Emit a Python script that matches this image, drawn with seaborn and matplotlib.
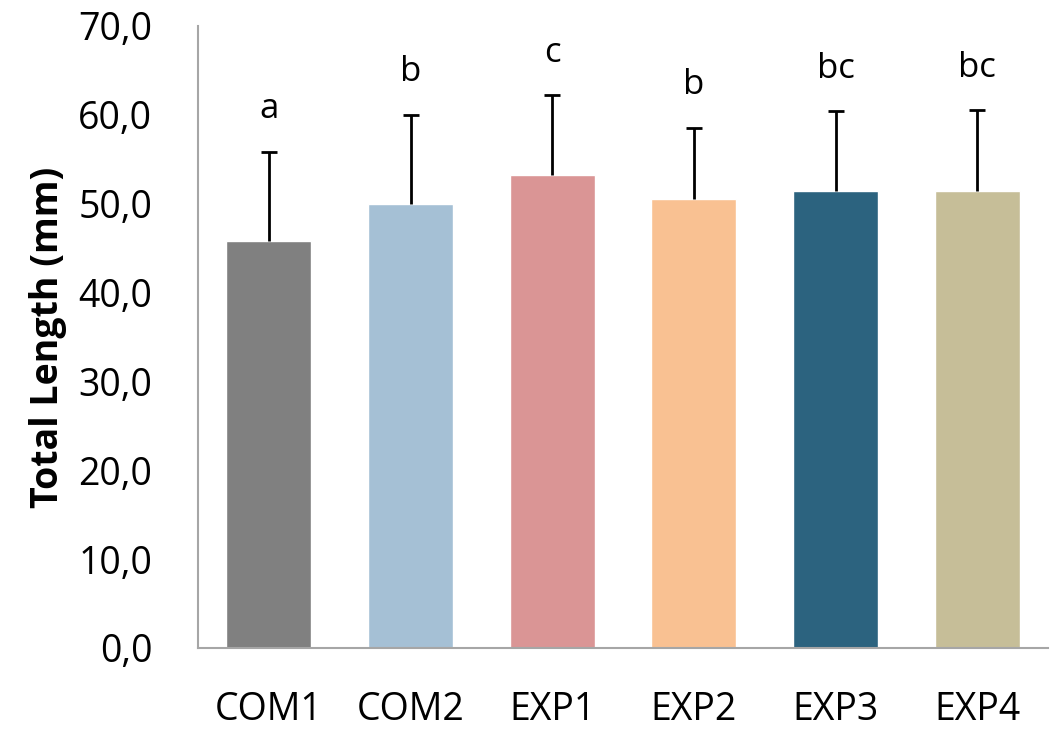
import numpy as np
import pandas as pd
import seaborn as sns
import matplotlib.pyplot as plt
from matplotlib.ticker import FuncFormatter, FixedLocator

# data
groups = ['COM1', 'COM2', 'EXP1', 'EXP2', 'EXP3', 'EXP4']
length_mean = [45.8, 50.0, 53.2, 50.5, 51.4, 51.4]
length_sd = [10.0, 10.0, 9.0, 8.0, 9.0, 9.1]
letters = ['a', 'b', 'c', 'b', 'bc', 'bc']
bar_colors = ['#808080', '#A5C0D5', '#DA9595', '#F9C192', '#2C637F', '#C6BE98']

sns.set_style('white')
plt.rcParams['font.family'] = ['Open Sans', 'DejaVu Sans']
plt.rcParams['text.color'] = 'black'
plt.rcParams['xtick.color'] = 'black'
plt.rcParams['ytick.color'] = 'black'
plt.rcParams['axes.labelcolor'] = 'black'

df = pd.DataFrame({'group': groups, 'length': length_mean})

fig = plt.figure(figsize=(10.63, 7.32), dpi=100)
ax = fig.add_axes([0.1863, 0.1148, 0.7996, 0.8497])

sns.barplot(data=df, x='group', y='length', hue='group', palette=bar_colors,
            legend=False, width=0.6, saturation=1, ax=ax)

x = np.arange(len(groups))
eb = ax.errorbar(x, length_mean, yerr=[np.zeros(len(groups)), length_sd], fmt='none',
                 ecolor='black', elinewidth=2, capsize=6, capthick=2)
# only the upper cap, as in the original
eb[1][0].set_visible(False)

for xi, m, s, lab in zip(x, length_mean, length_sd, letters):
    ax.text(xi, m + s + 3.8, lab, ha='center', va='baseline', fontsize=25)

ax.set_xlim(-0.5, len(groups) - 0.5)
ax.set_ylim(0, 70)
ax.set_yticks(np.arange(0, 71, 10))
ax.yaxis.set_major_formatter(FuncFormatter(lambda v, p: f'{v:.1f}'.replace('.', ',')))

# category boundary ticks like Excel
ax.xaxis.set_minor_locator(FixedLocator(np.arange(-0.5, len(groups), 1.0)))
ax.tick_params(axis='x', which='major', length=0, pad=31, labelsize=27)
ax.tick_params(axis='x', which='minor', length=15, width=1.2, color='#A6A6A6', direction='out')
ax.tick_params(axis='y', length=15, width=1.2, color='#A6A6A6', direction='out',
               labelsize=27, pad=18)

ax.set_xlabel('')
ax.set_ylabel('Total Length (mm)', fontsize=27, fontweight='bold', labelpad=8)

for side in ['top', 'right']:
    ax.spines[side].set_visible(False)
for side in ['left', 'bottom']:
    ax.spines[side].set_color('#A6A6A6')
    ax.spines[side].set_linewidth(1.5)

fig.savefig('out.png', dpi=100)
